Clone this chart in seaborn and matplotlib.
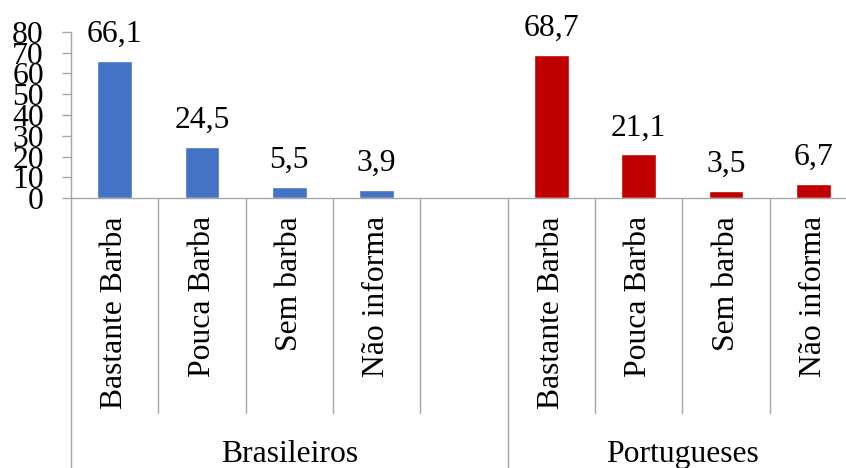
import matplotlib
matplotlib.use("Agg")
import matplotlib.pyplot as plt
import matplotlib.transforms as mtransforms
import seaborn as sns
import pandas as pd

# Data
grupos = ["Brasileiros", "Portugueses"]
categorias = ["Bastante Barba", "Pouca Barba", "Sem barba", "Não informa"]
brasileiros = [66.1, 24.5, 5.5, 3.9]
portugueses = [68.7, 21.1, 3.5, 6.7]
cores = {"Brasileiros": "#4472C4", "Portugueses": "#C00000"}
y_ticks = [0, 10, 20, 30, 40, 50, 60, 70, 80]

sns.set_theme(style="white")
plt.rcParams["font.family"] = ["Liberation Serif", "DejaVu Serif"]
plt.rcParams["text.color"] = "black"
plt.rcParams["xtick.color"] = "black"
plt.rcParams["ytick.color"] = "black"
FS = 22.8
GRAY = "#A6A6A6"

rows = []
for g, vals in zip(grupos, [brasileiros, portugueses]):
    for c, v in zip(categorias, vals):
        rows.append({"slot": f"{g}|{c}", "grupo": g, "categoria": c, "valor": v})
df = pd.DataFrame(rows)

# Slot order: four Brazilian categories, one empty slot, four Portuguese
order = [f"Brasileiros|{c}" for c in categorias] + ["Brasileiros|"] + \
        [f"Portugueses|{c}" for c in categorias]
tick_labels = categorias + [""] + categorias

fig = plt.figure(figsize=(8.46, 4.68), dpi=100)
ax = fig.add_axes([71 / 846, 269.7 / 468, 786 / 846, 166.6 / 468])

sns.barplot(data=df, x="slot", y="valor", hue="grupo", order=order,
            palette=cores, dodge=False, width=0.4, legend=False, ax=ax,
            saturation=1)

ax.set_ylim(0, 80)
ax.set_xlim(-0.5, len(order) - 0.5)
ax.set_yticks(y_ticks)
ax.set_yticklabels([str(t) for t in y_ticks], fontsize=FS, color="black")
ax.set_xticks(range(len(order)))
ax.set_xticklabels(tick_labels, rotation=90, fontsize=FS, color="black")
ax.set_xlabel("")
ax.set_ylabel("")

ax.tick_params(axis="y", length=6.5, width=1, color=GRAY, pad=13, direction="out", left=True)
ax.tick_params(axis="x", length=0, pad=13)

for s in ["top", "right"]:
    ax.spines[s].set_visible(False)
for s in ["left", "bottom"]:
    ax.spines[s].set_color(GRAY)
    ax.spines[s].set_linewidth(1)

# Value labels above bars
for p in ax.patches:
    v = p.get_height()
    if v != v or v == 0:
        continue
    ax.annotate(f"{v:.1f}".replace(".", ","),
                (p.get_x() + p.get_width() / 2, v),
                xytext=(0, 13.7), textcoords="offset points",
                ha="center", va="baseline", fontsize=FS, color="black")

# Multi-level category dividers
trans = mtransforms.blended_transform_factory(ax.transData, fig.transFigure)
axis_y = 269.7 / 468
for i in range(len(order) + 1):
    xb = i - 0.5
    bottom = 0.0 if i in (0, 5, 9) else 55 / 468
    ax.plot([xb, xb], [axis_y, bottom], transform=trans, color=GRAY,
            lw=1, clip_on=False)

# Group labels
for g, center in zip(grupos, [2.0, 6.5]):
    ax.text(center, 6.3 / 468, g, transform=trans, ha="center",
            va="baseline", fontsize=FS, color="black")

fig.savefig("out.png", dpi=100)
